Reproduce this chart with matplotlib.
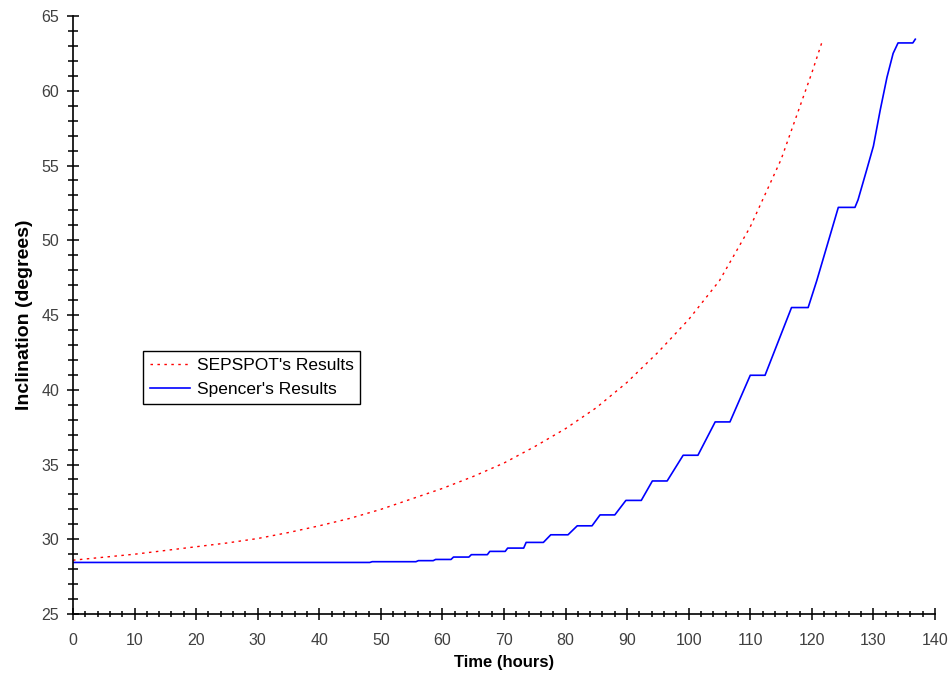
import matplotlib
matplotlib.use('Agg')
import matplotlib.pyplot as plt
from matplotlib.ticker import MultipleLocator

# SEPSPOT curve (hours, inclination in degrees)
sepspot_hours = [0, 5, 10, 15, 20, 25, 30, 35, 40, 45, 50, 55, 60, 65, 70, 75,
                 80, 85, 90, 95, 100, 105, 110, 115, 120, 121.6]
sepspot_incl = [28.6, 28.8, 29.0, 29.25, 29.5, 29.75, 30.05, 30.45, 30.9, 31.4,
                32.0, 32.7, 33.4, 34.2, 35.1, 36.2, 37.4, 38.8, 40.5, 42.5,
                44.7, 47.3, 50.9, 55.4, 61.2, 63.2]

# Spencer curve: plateaus joined by the climbs between them
spencer_hours = [0, 48.2, 48.6, 55.7, 56.1, 58.5, 58.9, 61.4, 61.8, 64.3, 64.7,
                 67.3, 67.7, 70.2, 70.6, 73.2, 73.6, 76.4, 77.6, 80.4, 81.9,
                 84.3, 85.6, 88.0, 89.8, 92.3, 94.1, 96.5, 99.1, 101.5, 104.3,
                 106.7, 110.0, 112.4, 116.7, 119.4, 120.8, 124.3, 127.0, 127.5,
                 128.9, 130.0, 131.1, 132.2, 133.2, 134.0, 136.4, 136.8]
spencer_incl = [28.45, 28.45, 28.5, 28.5, 28.57, 28.57, 28.65, 28.65, 28.81,
                28.81, 28.97, 28.97, 29.19, 29.19, 29.41, 29.41, 29.79, 29.79,
                30.3, 30.3, 30.9, 30.9, 31.63, 31.63, 32.6, 32.6, 33.9, 33.9,
                35.62, 35.62, 37.85, 37.85, 40.97, 40.97, 45.5, 45.5, 47.3,
                52.2, 52.2, 52.7, 54.7, 56.3, 58.7, 60.9, 62.5, 63.2, 63.2, 63.45]

plt.rcParams['font.family'] = ['Liberation Sans', 'DejaVu Sans']

fig = plt.figure(figsize=(9.5, 6.79), dpi=100)
ax = fig.add_axes([0.0768, 0.0957, 0.9074, 0.8807])

ax.plot(sepspot_hours, sepspot_incl, color='red', lw=1.0,
        linestyle=(0, (1.8, 3.2)), label="SEPSPOT's Results")
ax.plot(spencer_hours, spencer_incl, color='blue', lw=1.2,
        label="Spencer's Results")

ax.set_xlim(0, 140)
ax.set_ylim(25, 65)
ax.xaxis.set_major_locator(MultipleLocator(10))
ax.xaxis.set_minor_locator(MultipleLocator(2))
ax.yaxis.set_major_locator(MultipleLocator(5))
ax.yaxis.set_minor_locator(MultipleLocator(1))

for s in ['top', 'right']:
    ax.spines[s].set_visible(False)
for s in ['left', 'bottom']:
    ax.spines[s].set_linewidth(1.2)

ax.tick_params(axis='x', which='major', direction='inout', length=9, width=1.1,
               pad=9.5, labelsize=11.5, labelcolor='#404040')
ax.tick_params(axis='x', which='minor', direction='inout', length=5, width=1.1)
ax.tick_params(axis='y', which='major', direction='inout', length=8, width=1.1,
               pad=6, labelsize=11.5, labelcolor='#404040')
ax.tick_params(axis='y', which='minor', direction='inout', length=7, width=1.1)

ax.set_xlabel('Time (hours)', fontsize=12, fontweight='bold', labelpad=5)
ax.set_ylabel('Inclination (degrees)', fontsize=14, fontweight='bold', labelpad=6)

leg = ax.legend(loc='upper left', bbox_to_anchor=(0.081, 0.44), fontsize=12.5,
                handlelength=2.3, handletextpad=0.4, fancybox=False,
                framealpha=1, edgecolor='black', borderpad=0.4,
                labelspacing=0.5, borderaxespad=0)
leg.get_frame().set_linewidth(1.0)

fig.savefig('out.png', dpi=100)
